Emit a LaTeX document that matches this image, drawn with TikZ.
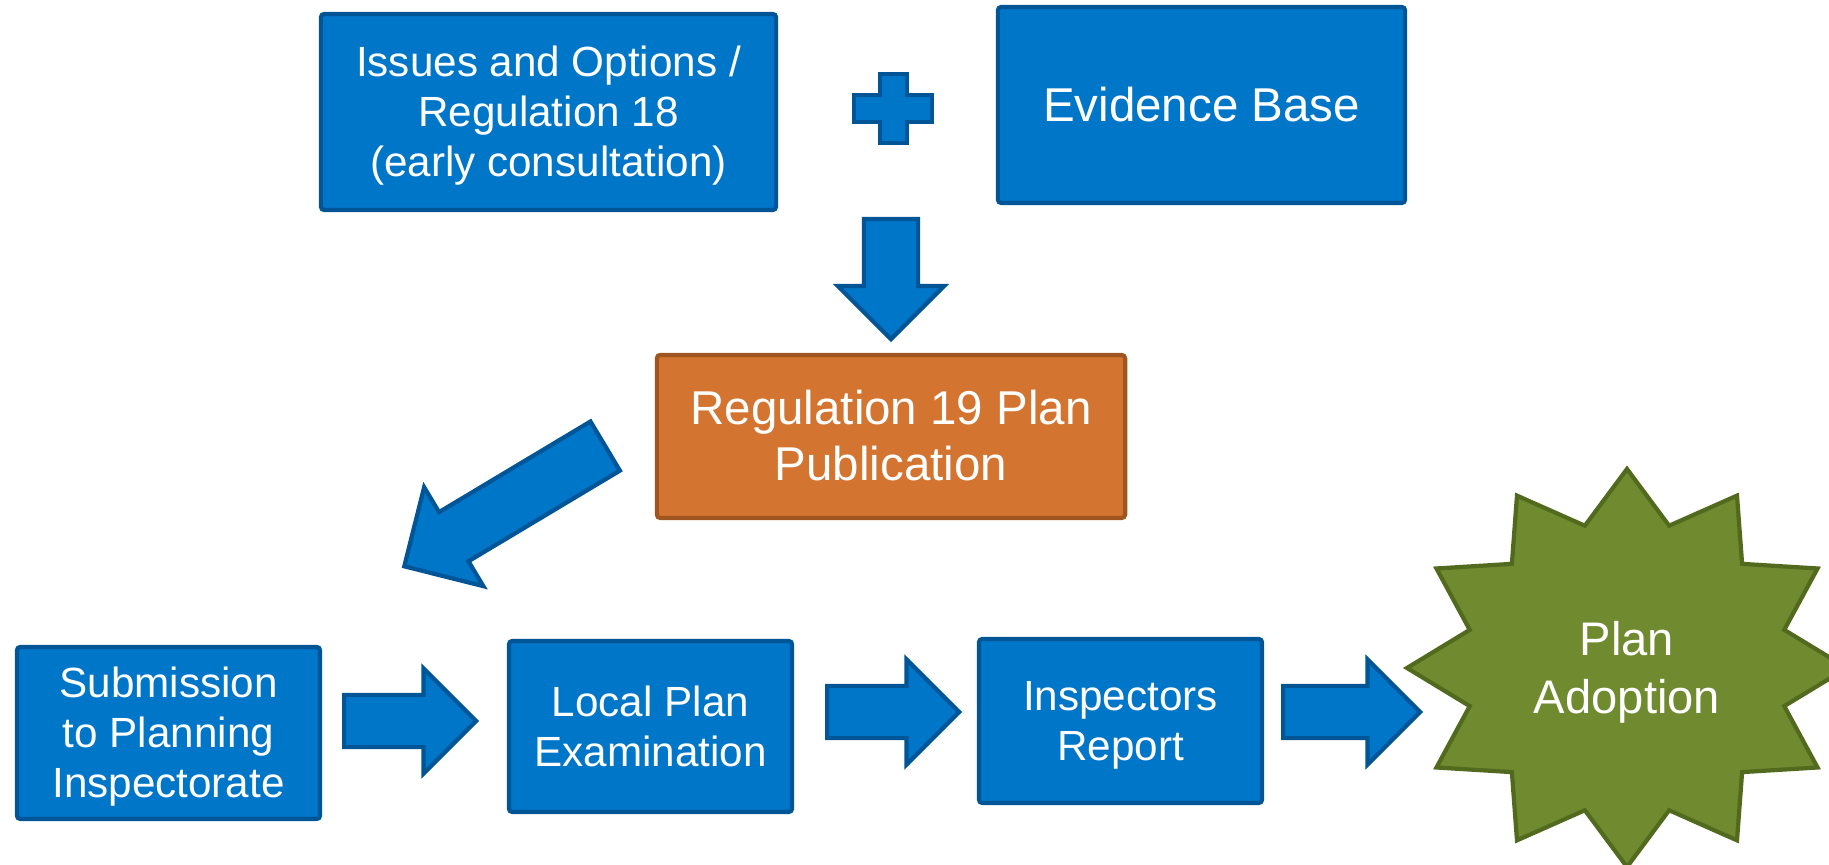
\documentclass[tikz,border=0pt]{standalone}
\usepackage{fontspec}
\setmainfont{Liberation Sans}
\usetikzlibrary{shapes.arrows}
\definecolor{boxblue}{RGB}{0,118,200}
\definecolor{boxedge}{RGB}{0,85,150}
\definecolor{pubfill}{RGB}{211,117,48}
\definecolor{pubedge}{RGB}{158,85,32}
\definecolor{adoptfill}{RGB}{112,139,47}
\definecolor{adoptedge}{RGB}{82,106,30}
\newcommand\pptstrut{\rule[-0.212em]{0pt}{1.117em}}

\begin{document}
\begin{tikzpicture}[x=0.01cm,y=-0.01cm]
        \tikzstyle{every node}=[text=white,inner sep=0pt]
        \tikzstyle{lines}=[align=center,execute at end node=\pptstrut]
        \tikzstyle{stage}=[lines,draw=boxedge,fill=boxblue,line width=1.2pt,rounded corners=1pt,font=\fontsize{12}{14.2}\selectfont]
        \tikzstyle{bigtext}=[font=\fontsize{13.5}{15.9}\selectfont]
        \tikzstyle{blockarrow}=[single arrow,draw=boxedge,fill=boxblue,line width=1.2pt,anchor=tail,inner xsep=0pt,inner ysep=0.24cm,minimum height=1.32cm,single arrow head extend=0.265cm]
        \useasboundingbox (0,0) rectangle (1829,865);
        \clip (0,0) rectangle (1829,865);
        \node[stage,minimum width=4.55cm,minimum height=1.96cm] (issues) at (548.5,112) {\pptstrut Issues and Options /\\Regulation 18\\(early consultation)};
        \node[stage,bigtext,minimum width=4.07cm,minimum height=1.96cm] (evidence) at (1201.5,105) {\pptstrut Evidence Base};
        \coordinate (plus) at (893,108.5);
        \draw[draw=boxedge,fill=boxblue,line width=1.2pt] (880,74) -- (907,74) -- (907,95) -- (932,95) -- (932,122) -- (907,122) -- (907,143) -- (880,143) -- (880,122) -- (854,122) -- (854,95) -- (880,95) -- cycle;
        \node[blockarrow,rotate=-90,minimum height=1.20cm,inner ysep=0.25cm,single arrow head extend=0.26cm] (down) at (891,217) {};
        \node[stage,bigtext,fill=pubfill,draw=pubedge,minimum width=4.68cm,minimum height=1.63cm] (reg19) at (891,436.5) {\pptstrut Regulation 19 Plan\\Publication};
        \node[blockarrow,rotate=210.9,minimum height=2.34cm,inner ysep=0.265cm,single arrow head extend=0.29cm] (diag) at (607,445) {};
        \node[stage,minimum width=3.03cm,minimum height=1.72cm] (submit) at (168.5,733) {\pptstrut Submission\\to Planning\\Inspectorate};
        \node[blockarrow] (toexam) at (342,721) {};
        \node[stage,minimum width=2.83cm,minimum height=1.71cm] (exam) at (650.5,726.5) {\pptstrut Local Plan\\Examination};
        \node[blockarrow] (toreport) at (825,712) {};
        \node[stage,minimum width=2.83cm,minimum height=1.64cm] (report) at (1120.5,721) {\pptstrut Inspectors\\Report};
        \node[blockarrow,minimum height=1.37cm] (toadopt) at (1281,712) {};
        \coordinate (adoptc) at (1627,668);
        \draw[draw=adoptedge,fill=adoptfill,line width=1.2pt] plot[samples at={0,15,...,345}] ({1627+220*(1-0.26*mod(\x/15,2))*cos(\x+90)},{668-199*(1-0.26*mod(\x/15,2))*sin(\x+90)}) -- cycle;
        \node[lines,font=\fontsize{13.4}{16.5}\selectfont] (adopt) at (adoptc) {\pptstrut Plan\\Adoption};
    \end{tikzpicture}
\end{document}
